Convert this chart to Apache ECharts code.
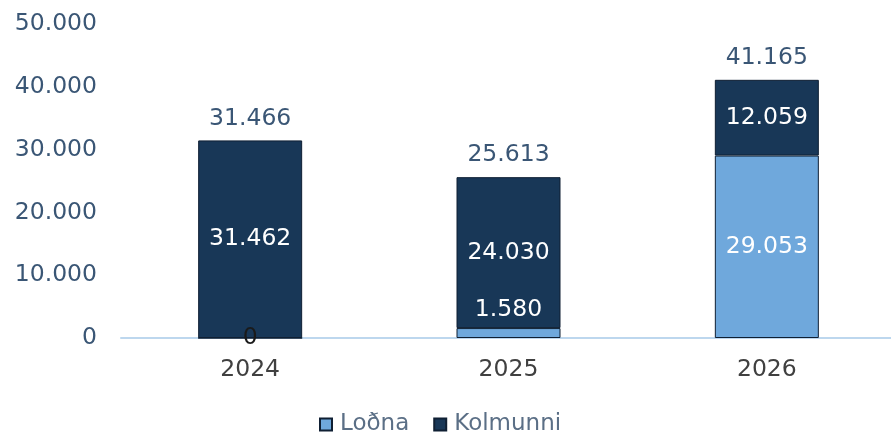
<!DOCTYPE html>
<html>
<head>
<meta charset="utf-8">
<script src="https://cdn.jsdelivr.net/npm/echarts@6/dist/echarts.min.js"></script>
<style>html,body{margin:0;padding:0;background:#fff;}#c{width:891px;height:434px;}</style>
</head>
<body>
<div id="c"></div>
<script>
var categories = ['2024', '2025', '2026'];
var lodna = [0, 1580, 29053];
var kolmunni = [31462, 24030, 12059];
var totals = [31466, 25613, 41165];
var yTicks = [0, 10000, 20000, 30000, 40000, 50000];

function fmt(v) {
  return String(v).replace(/\B(?=(\d{3})+(?!\d))/g, '.');
}
var FONT = 'DejaVu Sans';
var FS = 23.5;
var chart = echarts.init(document.getElementById('c'), null, {renderer: 'canvas'});

var lodnaData = lodna.map(function (v, i) {
  var item = {value: v};
  if (i === 0) {
    item.label = {position: 'inside', color: '#1a1a1a'};
  } else if (i === 1) {
    item.label = {position: 'top', distance: 6, color: '#ffffff'};
  }
  return item;
});

chart.setOption({
  animation: false,
  textStyle: {fontFamily: FONT},
  grid: {left: 121, width: 775, top: 24, bottom: 96, outerBoundsMode: 'none', containLabel: false},
  legend: {
    data: ['Loðna', 'Kolmunni'],
    bottom: -7,
    left: 314,
    itemWidth: 12,
    itemHeight: 12,
    itemGap: 24,
    textStyle: {fontFamily: FONT, fontSize: 23, color: '#5b6f86', padding: [0, 0, 0, 3]},
    icon: 'rect'
  },
  xAxis: {
    type: 'category',
    data: categories,
    axisLine: {lineStyle: {color: '#bdd7ee', width: 2}},
    axisTick: {show: false},
    axisLabel: {fontFamily: FONT, fontSize: FS, color: '#404040', margin: 20}
  },
  yAxis: {
    type: 'value',
    min: yTicks[0],
    max: yTicks[yTicks.length - 1],
    interval: yTicks[1] - yTicks[0],
    splitLine: {show: false},
    axisLine: {show: false},
    axisTick: {show: false},
    axisLabel: {fontFamily: FONT, fontSize: FS, color: '#3a5675', margin: 24, formatter: fmt}
  },
  series: [
    {
      name: 'Loðna',
      type: 'bar',
      stack: 's',
      barWidth: 104,
      data: lodnaData,
      itemStyle: {color: '#6fa8dc', borderColor: '#0f1f33', borderWidth: 1},
      label: {show: true, position: 'inside', color: '#ffffff', fontFamily: FONT, fontSize: FS,
        formatter: function (p) { return fmt(p.value); }}
    },
    {
      name: 'Kolmunni',
      type: 'bar',
      stack: 's',
      barWidth: 104,
      data: kolmunni,
      itemStyle: {color: '#183757', borderColor: '#0f1f33', borderWidth: 1},
      label: {show: true, position: 'inside', color: '#ffffff', fontFamily: FONT, fontSize: FS,
        formatter: function (p) { return fmt(p.value); }}
    },
    {
      name: 'Total',
      type: 'bar',
      stack: 's',
      barWidth: 104,
      data: totals.map(function () { return 0; }),
      itemStyle: {color: 'transparent'},
      label: {show: true, position: 'top', distance: 10, color: '#3a5675', fontFamily: FONT, fontSize: FS,
        formatter: function (p) { return fmt(totals[p.dataIndex]); }}
    }
  ]
});
</script>
</body>
</html>
